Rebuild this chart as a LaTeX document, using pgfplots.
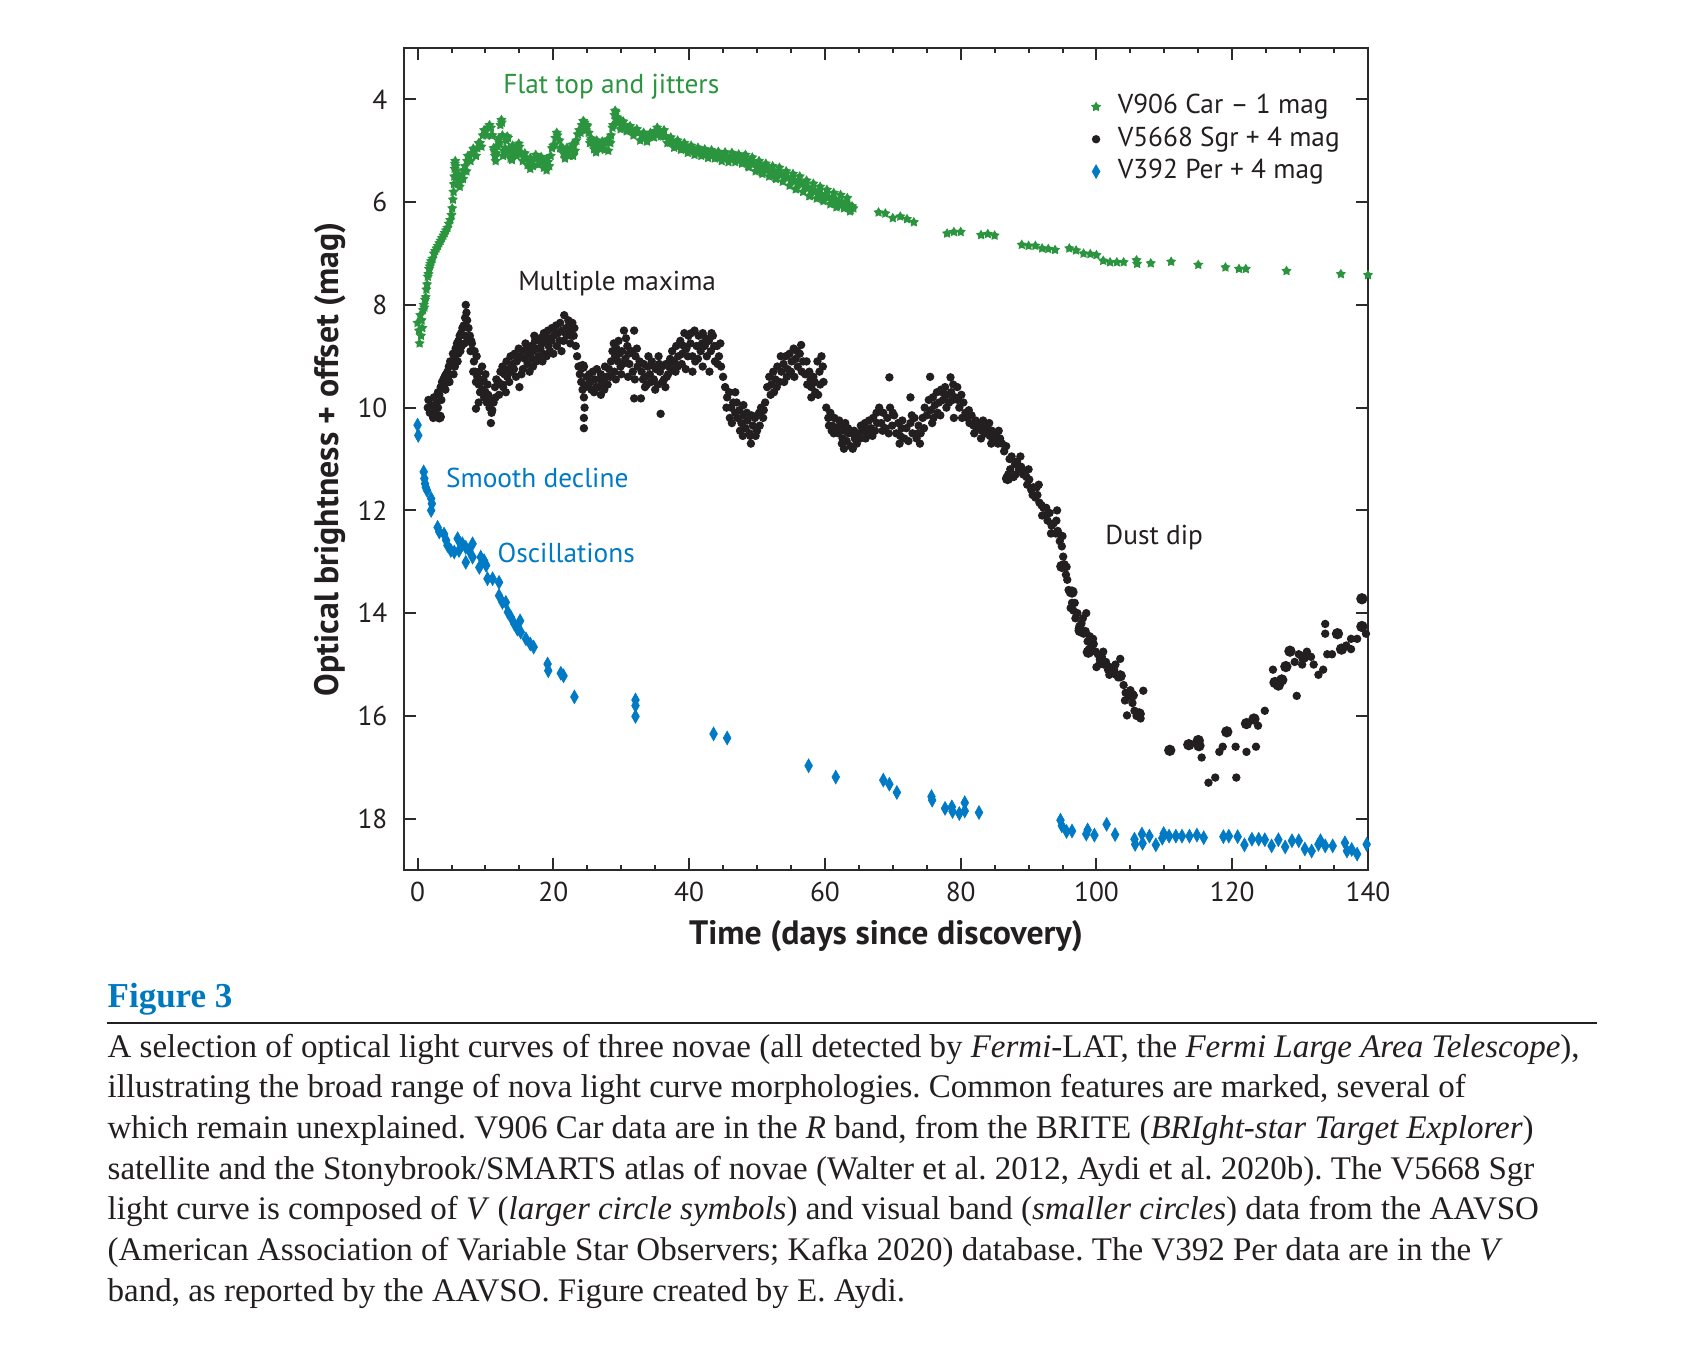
\documentclass[border=0pt]{standalone}
\usepackage{fontspec}
\setmainfont{PT Sans}
\newfontfamily\capfont{Liberation Serif}
\usepackage{pgfplots}
\pgfplotsset{compat=1.18}
\usetikzlibrary{plotmarks}
\definecolor{cgreen}{RGB}{42,148,62}
\definecolor{cblue}{RGB}{0,122,196}
\definecolor{cblack}{RGB}{35,31,32}
\definecolor{caxis}{RGB}{45,42,43}
\definecolor{capblue}{RGB}{0,120,190}
\pgfdeclareplotmark{fstar}{%
 \pgfpathmoveto{\pgfpointpolar{90}{\pgfplotmarksize}}%
 \pgfpathlineto{\pgfpointpolar{126}{0.55\pgfplotmarksize}}%
 \pgfpathlineto{\pgfpointpolar{162}{\pgfplotmarksize}}%
 \pgfpathlineto{\pgfpointpolar{198}{0.55\pgfplotmarksize}}%
 \pgfpathlineto{\pgfpointpolar{234}{\pgfplotmarksize}}%
 \pgfpathlineto{\pgfpointpolar{270}{0.55\pgfplotmarksize}}%
 \pgfpathlineto{\pgfpointpolar{306}{\pgfplotmarksize}}%
 \pgfpathlineto{\pgfpointpolar{342}{0.55\pgfplotmarksize}}%
 \pgfpathlineto{\pgfpointpolar{18}{\pgfplotmarksize}}%
 \pgfpathlineto{\pgfpointpolar{54}{0.55\pgfplotmarksize}}%
 \pgfpathclose\pgfusepathqfill}

\pgfplotstableread{
x y
0.0 8.35
0.2 8.5
0.3 8.75
0.4 8.2
0.5 8.6
0.6 8.3
0.7 8.45
0.8 8.1
0.9 8.0
1.0 8.05
1.1 7.9
1.2 7.85
1.3 7.7
1.4 7.6
1.5 7.45
1.6 7.4
1.7 7.3
1.8 7.25
1.9 7.2
2.0 7.15
2.2 7.1
2.4 7.0
2.6 6.95
2.8 6.9
3.0 6.85
3.2 6.8
3.4 6.75
3.6 6.7
3.8 6.65
4.0 6.6
4.2 6.55
4.4 6.5
4.6 6.42
4.8 6.35
5.0 6.25
5.1 6.12
5.2 5.95
5.3 5.8
5.35 5.65
5.4 5.5
5.45 5.35
5.5 5.25
5.55 5.2
5.6 5.3
5.7 5.4
5.8 5.5
6.0 5.55
6.2 5.6
6.4 5.55
6.6 5.45
6.8 5.38
7.0 5.3
7.3 5.2
7.6 5.12
8.0 5.05
8.4 5.0
8.8 4.95
9.2 4.85
9.6 4.7
10.0 4.62
10.4 4.55
10.8 4.55
11.0 4.7
11.2 4.95
11.4 5.1
11.6 5.05
11.8 4.9
12.0 4.75
12.2 4.5
12.35 4.4
12.5 4.7
12.7 5.0
12.9 4.95
13.1 4.8
13.3 4.75
13.5 4.95
13.8 5.05
14.1 4.95
14.4 5.0
14.8 4.95
15.0 4.92
15.3 5.05
15.6 5.12
16.0 5.15
16.4 5.2
16.8 5.22
17.2 5.15
17.6 5.15
18.0 5.18
18.4 5.22
18.8 5.25
19.2 5.22
19.6 5.1
20.0 4.9
20.3 4.75
20.6 4.7
20.9 4.8
21.2 4.95
21.5 5.05
21.8 5.05
22.2 5.0
22.6 4.98
23.0 4.9
23.4 4.8
23.8 4.6
24.2 4.5
24.6 4.45
24.9 4.5
25.2 4.65
25.5 4.8
25.8 4.85
26.2 4.88
26.6 4.85
27.0 4.88
27.4 4.9
27.8 4.85
28.2 4.82
28.5 4.7
28.8 4.5
29.0 4.3
29.2 4.25
29.4 4.35
29.7 4.45
30.0 4.48
30.5 4.5
31.0 4.55
31.5 4.6
32.0 4.62
32.5 4.65
33.0 4.7
33.5 4.72
34.0 4.72
34.5 4.68
35.0 4.62
35.5 4.6
36.0 4.65
36.5 4.72
37.0 4.78
37.5 4.82
38.0 4.85
38.5 4.88
39.0 4.9
39.5 4.92
40.0 4.95
40.5 4.98
41.0 5.0
41.5 5.0
42.0 5.02
42.5 5.05
43.0 5.05
43.5 5.05
44.0 5.08
44.5 5.1
45.0 5.08
45.5 5.1
46.0 5.12
46.5 5.1
47.0 5.12
47.5 5.15
48.0 5.12
48.5 5.18
49.0 5.2
49.5 5.25
50.0 5.28
50.5 5.3
51.0 5.32
51.5 5.35
52.0 5.38
52.5 5.4
53.0 5.42
53.5 5.45
54.0 5.48
54.5 5.52
55.0 5.55
55.5 5.58
56.0 5.6
56.5 5.63
57.0 5.68
57.5 5.72
58.0 5.75
58.5 5.78
59.0 5.8
59.5 5.85
60.0 5.88
60.5 5.9
61.0 5.93
61.5 5.95
62.0 5.98
62.5 6.0
63.0 6.02
63.5 6.05
64.0 6.08
67.9 6.20
68.9 6.22
70.0 6.31
71.1 6.28
72.1 6.33
73.1 6.39
78.0 6.61
79.0 6.58
80.0 6.58
83.0 6.64
84.0 6.62
85.0 6.65
89.0 6.83
90.0 6.85
91.0 6.85
92.0 6.90
92.9 6.91
93.9 6.93
96.0 6.90
97.0 6.94
98.1 7.00
99.1 7.01
100.0 7.03
101.0 7.14
102.0 7.17
103.0 7.17
104.0 7.17
105.9 7.13
106.0 7.20
108.0 7.19
111.0 7.16
115.0 7.22
119.0 7.27
121.0 7.30
122.0 7.30
128.0 7.34
136.0 7.40
140.0 7.42
}\greenA

\pgfplotstableread{
x y
6.2 5.7
6.7 5.55
7.2 5.4
7.8 5.2
8.6 5.1
9.4 4.92
10.2 4.7
10.9 4.7
11.5 5.2
12.1 4.85
12.6 5.1
13.0 5.05
13.7 5.15
14.6 5.1
15.5 5.2
16.2 5.28
17.0 5.3
17.8 5.27
18.6 5.33
19.4 5.3
20.2 4.88
21.0 4.95
21.7 5.15
22.4 5.1
23.2 5.0
24.0 4.65
24.8 4.6
25.4 4.85
26.0 4.97
26.8 4.96
27.6 4.98
28.4 4.85
29.3 4.4
29.9 4.58
30.8 4.62
31.8 4.7
32.8 4.8
33.8 4.82
34.8 4.74
35.8 4.72
36.8 4.85
37.8 4.94
38.8 4.98
39.8 5.04
40.8 5.08
41.8 5.1
42.8 5.14
43.8 5.15
44.8 5.2
45.8 5.22
46.8 5.22
47.8 5.25
48.8 5.32
49.8 5.4
50.8 5.45
51.8 5.5
52.8 5.55
53.8 5.6
54.8 5.68
55.8 5.74
56.8 5.8
57.8 5.88
58.8 5.93
59.8 5.98
60.8 6.04
61.8 6.08
62.8 6.12
63.8 6.15
6.5 5.48
7.4 5.1
8.2 4.96
9.0 4.85
9.8 4.6
10.6 4.5
11.3 5.0
11.9 4.8
12.4 4.45
13.2 4.72
14.0 4.9
14.9 4.86
15.8 5.05
16.6 5.14
17.4 5.08
18.2 5.12
19.0 5.17
19.8 4.95
20.5 4.65
21.4 4.95
22.0 4.94
22.8 4.88
23.6 4.68
24.4 4.42
25.0 4.52
25.6 4.76
26.4 4.8
27.2 4.82
28.0 4.78
28.7 4.55
29.1 4.22
29.6 4.38
30.3 4.43
31.3 4.52
32.3 4.58
33.3 4.65
34.3 4.65
35.3 4.55
36.3 4.6
37.3 4.74
38.3 4.8
39.3 4.85
40.3 4.9
41.3 4.94
42.3 4.97
43.3 4.99
44.3 5.02
45.3 5.03
46.3 5.04
47.3 5.07
48.3 5.08
49.3 5.13
50.3 5.2
51.3 5.25
52.3 5.3
53.3 5.33
54.3 5.4
55.3 5.45
56.3 5.5
57.3 5.58
58.3 5.64
59.3 5.7
60.3 5.76
61.3 5.82
62.3 5.86
63.3 5.92
35.2 4.68
36.2 4.72
37.2 4.84
38.2 4.9
39.2 4.95
40.2 5.0
41.2 5.05
42.2 5.08
43.2 5.1
44.2 5.13
45.2 5.14
46.2 5.16
47.2 5.18
48.2 5.2
49.2 5.26
50.2 5.33
51.2 5.37
52.2 5.43
53.2 5.46
54.2 5.52
55.2 5.58
56.2 5.63
57.2 5.72
58.2 5.78
59.2 5.84
60.2 5.91
61.2 5.96
62.2 6.01
63.2 6.06
64.2 6.12
55.7 5.75
57.7 5.88
59.7 5.95
61.7 6.1
63.7 6.18
50.7 5.42
52.7 5.52
48.7 5.3
13.9 5.18
16.6 5.35
19.0 5.38
22.9 5.1
26.3 5.03
28.1 5.0
}\greenB

\pgfplotstableread{
x y
1.5 10.0
1.6 9.85
1.8 10.1
2.0 9.95
2.2 10.15
2.4 9.8
2.6 10.05
2.8 9.9
3.0 9.7
3.2 9.75
3.4 9.6
3.6 9.5
3.8 9.45
4.0 9.55
4.2 9.35
4.4 9.3
4.5 9.45
4.6 9.2
4.8 9.1
5.0 9.15
5.2 8.95
5.4 9.0
5.5 9.2
5.6 8.85
5.8 8.75
6.0 8.7
6.0 8.95
6.2 8.6
6.4 8.55
6.5 8.8
6.6 8.45
6.8 8.4
7.0 8.25
7.0 8.6
7.1 8.0
7.3 8.3
7.5 8.45
7.5 8.7
7.7 8.6
7.9 8.7
8.0 8.75
8.1 8.9
8.2 9.3
8.3 9.1
8.5 9.3
8.6 9.5
8.6 10.02
8.7 9.0
8.8 9.4
9.0 9.55
9.0 9.9
9.2 9.7
9.4 9.5
9.5 9.2
9.6 9.65
9.8 9.8
10.0 9.7
10.0 9.35
10.2 9.9
10.4 9.75
10.6 10.0
10.8 9.85
10.8 10.3
11.0 10.05
11.2 9.9
11.4 9.6
11.6 9.45
11.9 9.5
12.2 9.3
12.5 9.2
12.5 9.55
12.8 9.35
13.0 9.7
13.1 9.1
13.4 9.25
13.5 9.5
13.7 9.0
14.0 9.15
14.3 8.95
14.5 9.4
14.6 9.1
14.9 8.85
15.0 9.6
15.2 9.0
15.5 8.9
15.5 9.25
15.8 9.05
16.1 8.85
16.4 8.95
16.5 9.3
16.7 8.8
17.0 8.9
17.0 9.2
17.3 8.7
17.5 9.1
17.6 8.85
18.0 8.65
18.3 8.75
18.5 8.95
18.6 8.55
18.9 8.7
19.0 9.0
19.2 8.5
19.5 8.65
19.5 8.9
19.8 8.45
20.1 8.6
20.4 8.4
20.5 8.8
20.7 8.55
21.0 8.35
21.3 8.5
21.5 8.7
21.6 8.2
21.9 8.45
22.2 8.3
22.5 8.5
22.5 8.75
22.8 8.35
23.0 8.6
23.3 8.8
23.5 9.0
23.7 9.2
23.9 9.35
24.1 9.5
24.3 9.65
24.5 9.8
24.5 10.2
24.5 10.4
24.6 10.0
24.7 9.6
24.9 9.4
25.1 9.55
25.3 9.35
25.5 9.5
25.8 9.3
26.0 9.7
26.1 9.45
26.4 9.25
26.7 9.6
27.0 9.35
27.0 9.75
27.3 9.5
27.6 9.2
27.9 9.4
28.2 9.25
28.5 9.1
28.7 8.9
28.9 8.75
29.0 9.3
29.1 9.0
29.3 8.85
29.5 9.1
29.7 8.95
29.9 9.2
30.0 9.35
30.1 8.9
30.4 8.5
30.6 9.05
30.9 8.8
31.0 9.4
31.2 9.15
31.5 8.9
31.9 8.5
31.9 9.82
32.0 9.45
32.1 9.0
32.4 9.2
32.7 9.1
32.9 9.82
33.0 9.3
33.3 9.15
33.5 9.6
33.6 9.4
33.9 9.2
34.0 9.0
34.2 9.35
34.5 9.1
34.8 9.45
35.0 9.65
35.1 9.25
35.4 9.55
35.5 9.0
35.7 9.3
35.8 10.12
36.0 9.2
36.3 9.45
36.5 9.6
36.6 9.15
36.9 9.35
37.2 9.05
37.5 8.9
37.8 9.1
38.0 9.3
38.1 8.8
38.4 9.0
38.7 8.7
39.0 8.95
39.3 8.55
39.5 9.25
39.6 8.85
39.9 8.6
40.2 8.75
40.5 9.0
40.5 9.3
40.8 8.5
41.1 8.8
41.4 8.6
41.7 8.9
42.0 8.55
42.0 9.2
42.3 8.8
42.6 9.0
42.9 8.7
43.0 9.3
43.2 8.9
43.5 8.6
43.8 9.1
44.1 8.8
44.4 9.0
44.7 9.2
45.0 9.4
45.3 9.6
45.6 9.8
45.9 9.7
46.0 10.2
46.2 10.0
46.5 9.9
46.8 10.1
46.8 9.7
47.1 10.2
47.4 10.05
47.5 10.45
47.7 10.3
48.0 10.15
48.0 9.95
48.3 10.4
48.6 10.25
48.9 10.5
49.0 10.55
49.1 10.7
49.4 10.35
49.7 10.2
50.0 10.45
50.3 10.1
50.6 10.0
50.9 10.2
51.2 9.9
51.5 9.6
51.8 9.4
52.1 9.55
52.4 9.3
52.5 9.7
52.7 9.45
53.0 9.2
53.3 9.5
53.6 9.3
53.9 9.15
54.0 9.5
54.2 9.0
54.5 9.25
54.8 8.95
55.1 9.1
55.4 8.85
55.5 9.4
55.7 9.05
56.0 9.2
56.3 8.95
56.5 8.78
56.8 9.1
57.1 9.35
57.4 9.55
57.7 9.3
58.0 9.6
58.0 9.8
58.3 9.4
58.6 9.7
58.9 9.1
59.0 9.75
59.2 9.3
59.5 9.0
59.8 9.5
60.2 10.0
60.5 10.2
60.8 10.1
61.0 10.45
61.1 10.35
61.4 10.2
61.7 10.4
62.0 10.5
62.3 10.35
62.5 10.7
62.6 10.6
62.9 10.45
63.0 10.3
63.2 10.65
63.5 10.5
63.8 10.75
64.0 10.5
64.1 10.8
64.4 10.6
64.7 10.7
65.0 10.5
65.3 10.35
65.6 10.45
65.9 10.3
66.0 10.6
66.2 10.5
66.5 10.25
66.8 10.4
67.1 10.2
67.4 10.45
67.7 10.3
68.0 10.0
68.3 10.3
68.6 10.1
68.9 10.4
69.2 10.2
69.5 9.41
69.6 10.0
69.9 10.35
70.2 10.15
70.5 10.5
70.8 10.3
71.0 10.7
71.1 10.55
71.4 10.25
71.7 10.6
72.0 10.4
72.3 10.65
72.6 9.8
72.6 10.3
72.9 10.5
73.2 10.2
73.5 10.6
73.8 10.35
74.0 10.7
74.1 10.5
74.4 10.2
74.7 10.0
75.0 10.15
75.3 9.85
75.5 9.4
75.6 10.05
75.9 9.8
76.0 10.2
76.2 9.95
76.5 9.7
76.8 9.9
77.0 10.15
77.1 9.65
77.4 9.85
77.7 9.6
78.0 9.75
78.3 9.9
78.5 9.41
78.6 9.7
78.9 9.55
79.0 10.2
79.2 9.8
79.5 9.6
79.8 10.0
80.1 9.75
80.4 9.9
80.7 10.1
81.0 10.2
81.3 10.3
81.6 10.15
81.9 10.35
82.2 10.25
82.5 10.4
82.8 10.3
83.0 10.6
83.1 10.45
83.4 10.35
83.7 10.5
84.0 10.4
84.3 10.55
84.5 10.7
84.6 10.45
84.9 10.6
85.2 10.5
85.5 10.7
85.8 10.6
86.1 10.7
86.4 10.85
86.7 10.75
87.0 11.3
87.2 11.0
87.5 10.95
87.8 11.35
88.0 11.1
88.3 11.05
88.6 11.2
88.9 11.15
89.2 11.3
89.5 11.25
89.8 11.5
90.0 11.2
90.1 11.4
90.4 11.6
90.7 11.55
91.0 11.75
91.3 11.7
91.5 11.5
91.6 11.85
91.9 11.9
92.2 11.95
92.5 12.1
92.8 12.2
93.1 12.05
93.4 12.3
93.7 12.25
94.0 12.45
94.2 12.0
94.3 12.4
94.6 12.6
94.9 12.7
95.0 12.5
95.1 12.9
95.3 13.05
95.5 13.25
95.7 13.35
95.9 13.55
96.1 13.6
96.4 13.8
96.6 13.95
96.9 14.1
97.2 14.0
97.5 14.25
97.8 14.2
98.1 14.4
98.4 14.35
98.5 14.0
98.7 14.55
99.0 14.45
99.3 14.65
99.6 14.6
99.9 14.75
100.0 15.05
100.2 14.8
100.5 14.9
100.8 14.85
101.1 15.0
101.4 14.95
101.7 15.1
102.0 15.05
102.3 15.15
102.6 15.1
102.9 15.2
103.2 15.25
103.5 14.89
104.0 15.4
104.3 15.55
104.5 15.99
104.7 15.6
105.0 15.5
105.3 15.75
105.6 15.9
105.9 16.0
106.2 15.95
106.5 16.05
106.9 15.51
115.5 16.81
116.5 17.3
117.5 17.2
118.1 16.7
118.6 16.6
120.5 16.6
120.6 17.2
122.1 16.7
123.5 16.6
123.8 16.19
124.8 15.9
126.0 15.1
129.5 15.61
129.2 14.95
129.8 14.8
130.3 15.0
131.0 14.75
131.6 14.85
132.0 15.0
132.7 15.2
133.4 15.1
133.7 14.21
133.7 14.4
134.0 14.8
134.7 14.8
136.8 14.63
137.5 14.7
137.5 14.5
138.4 14.5
139.7 14.4
2.3 10.2
3.0 10.0
3.5 9.85
4.1 9.65
4.7 9.5
5.3 9.35
5.9 9.1
6.3 8.9
6.9 8.75
7.2 8.15
7.8 8.9
8.4 8.9
9.1 9.3
9.7 9.45
10.3 9.55
10.9 10.1
11.5 9.8
12.0 9.75
12.6 9.6
13.2 9.4
13.8 9.3
14.2 9.25
14.8 9.05
15.3 9.35
15.9 8.75
16.2 9.15
16.9 9.05
17.2 8.6
17.8 9.0
18.1 8.85
18.4 9.1
18.8 8.6
19.3 8.8
19.7 8.7
20.0 8.95
20.3 8.55
20.9 8.7
21.2 8.9
21.8 8.55
22.0 8.6
22.3 8.4
22.7 8.6
23.1 8.45
25.6 9.65
26.3 9.6
26.9 9.45
27.5 9.65
28.0 9.55
28.4 9.4
29.2 9.45
29.6 8.7
30.2 9.15
30.7 8.65
31.1 8.95
31.7 9.3
32.3 8.85
33.2 9.45
33.8 9.55
34.4 9.5
34.9 9.2
35.6 9.15
36.1 9.5
36.7 9.4
37.0 9.2
37.6 9.25
38.3 9.2
38.9 9.15
39.2 8.8
39.8 9.0
40.3 8.55
40.9 9.1
41.3 9.05
41.9 8.75
42.5 8.65
43.3 8.55
43.7 8.8
44.2 9.15
44.6 8.75
45.5 10.0
46.3 10.3
47.0 9.9
47.9 10.55
48.5 10.1
49.2 10.15
49.8 10.55
50.4 10.35
51.0 10.05
52.0 9.75
52.9 9.6
53.5 9.0
54.4 9.4
55.0 9.3
55.9 8.9
56.6 9.3
57.3 9.1
57.9 9.45
58.5 9.5
59.3 9.55
59.7 9.2
60.6 10.35
61.3 10.5
62.1 10.25
62.8 10.8
63.4 10.4
64.3 10.45
65.2 10.6
66.1 10.4
67.0 10.55
67.6 10.1
68.5 10.45
69.4 10.5
70.0 10.1
71.3 10.4
72.8 10.15
73.7 10.5
74.6 10.4
75.8 10.3
76.6 10.1
77.3 9.7
77.9 10.0
78.8 9.85
79.6 9.85
80.2 10.2
81.2 10.05
82.0 10.5
83.3 10.25
84.2 10.3
85.0 10.65
85.6 10.45
87.3 11.2
88.1 11.3
88.8 10.95
89.7 11.35
90.6 11.7
91.2 11.55
92.0 12.1
92.6 11.95
93.3 12.45
94.1 12.2
94.8 12.5
95.6 13.1
96.2 13.9
96.8 13.8
97.4 14.3
98.0 14.1
98.9 14.7
99.5 14.5
100.4 15.0
101.0 14.75
101.9 15.2
102.8 15.0
104.2 15.7
105.5 15.6
}\blackS

\pgfplotstableread{
x y
3.2 10.18
4.2 9.4
24.3 9.2
86.9 11.38
94.9 13.09
96.4 13.59
97.6 14.34
98.8 14.76
103.5 15.22
105.2 15.6
106.3 15.96
110.8 16.67
113.6 16.56
115.0 16.48
115.1 16.58
119.2 16.31
122.1 16.15
123.2 16.06
126.3 15.35
126.8 15.4
127.3 15.3
127.9 15.04
128.5 14.74
130.5 14.86
135.5 14.4
136.1 14.7
139.1 13.72
139.1 14.26
}\blackL

\pgfplotstableread{
x y
0.0 10.34
0.1 10.54
0.9 11.25
1.0 11.38
1.1 11.48
1.2 11.55
1.4 11.61
2.0 11.77
2.1 11.87
2.0 12.0
2.95 12.33
3.2 12.42
3.9 12.46
4.2 12.58
4.4 12.68
4.9 12.78
5.4 12.81
5.9 12.55
6.1 12.78
6.6 12.65
7.1 12.72
7.1 13.01
7.6 12.78
8.1 12.65
8.1 12.91
9.1 13.11
9.3 12.91
9.8 12.98
10.1 13.07
10.3 13.33
11.05 13.33
12.0 13.4
12.0 13.66
12.5 13.79
13.0 13.79
13.3 13.98
13.75 14.08
14.25 14.21
14.7 14.31
15.1 14.15
15.2 14.37
15.96 14.5
16.6 14.6
17.1 14.66
19.15 14.99
19.25 15.12
21.1 15.17
21.5 15.22
23.1 15.63
32.1 15.69
32.1 15.8
32.1 16.01
43.6 16.35
45.6 16.43
57.6 16.97
61.6 17.19
68.6 17.25
69.5 17.33
70.6 17.49
75.7 17.57
75.8 17.64
77.7 17.80
78.7 17.77
78.8 17.86
79.8 17.90
80.6 17.69
80.6 17.85
82.7 17.88
94.7 18.03
94.9 18.14
95.6 18.25
96.4 18.24
98.5 18.30
98.7 18.22
99.7 18.32
101.5 18.11
102.75 18.31
105.6 18.40
105.7 18.50
106.7 18.30
106.8 18.48
107.8 18.34
108.75 18.51
109.7 18.38
109.9 18.29
110.7 18.34
111.7 18.34
112.6 18.34
113.7 18.34
114.8 18.32
115.8 18.37
118.7 18.35
119.5 18.34
120.8 18.35
121.8 18.51
122.9 18.40
123.9 18.40
124.8 18.41
125.8 18.53
126.8 18.41
127.8 18.55
128.8 18.43
129.8 18.43
130.7 18.59
131.7 18.63
132.7 18.50
133.0 18.43
133.7 18.53
134.8 18.53
136.6 18.47
136.9 18.63
137.6 18.60
138.4 18.69
139.8 18.50
}\blue

\begin{document}
\frenchspacing
\begin{tikzpicture}
\path[use as bounding box] (0,0) rectangle (511.8pt,-410.4pt);
\begin{axis}[
 at={(121.2pt,-261pt)}, anchor=south west,
 scale only axis, width=289.2pt, height=246.6pt,
 xmin=-2, xmax=140, ymin=3, ymax=19, y dir=reverse,
 xtick={0,20,...,140}, minor x tick num=3,
 ytick={4,6,...,18},
 tick align=inside,
 major tick length=3.6pt, minor tick length=1.6pt,
 axis line style={caxis, line width=0.75pt},
 every tick/.style={caxis, line width=0.6pt},
 tick label style={font=\fontsize{8.2}{9}\selectfont, text=cblack},
 /pgf/number format/assume math mode=true,
 xticklabel style={anchor=center, yshift=-6.6pt, inner sep=0pt},
 yticklabel style={anchor=east, xshift=-4.8pt, inner sep=0pt},
 xlabel={Time (days since discovery)},
 ylabel={Optical brightness + offset (mag)},
 label style={font=\bfseries\fontsize{10.15}{12}\selectfont, text=cblack},
 xlabel style={at={(axis description cs:0.5,-0.080)}, anchor=center},
 ylabel style={at={(axis description cs:-0.0768,0.5)}, anchor=center},
 legend style={at={(axis cs:99.1,3.88)}, anchor=north west, draw=none, fill=none,
   font=\fontsize{8.2}{9}\selectfont, row sep=1.9pt, inner sep=0pt,
   nodes={inner sep=0pt, text height=6pt, text depth=1.8pt, text=cblack},
   /tikz/every odd column/.append style={column sep=5pt}},
 legend cell align=left,
 legend image code/.code={\draw[#1] plot coordinates {(0pt,0pt)};},
]
\addplot[only marks, mark=fstar, mark size=1.6pt, color=cgreen] table {\greenA};
\addlegendentry{V906 Car – 1 mag}
\addplot[only marks, mark=*, mark size=1.05pt, color=cblack] table {\blackS};
\addlegendentry{V5668 Sgr + 4 mag}
\addplot[only marks, mark=diamond*, mark size=2.05pt, mark options={xscale=0.75, line width=0.2pt}, color=cblue] table {\blue};
\addlegendentry{V392 Per + 4 mag}
\addplot[only marks, mark=fstar, mark size=1.6pt, color=cgreen, forget plot] table {\greenB};
\addplot[only marks, mark=*, mark size=1.5pt, color=cblack, forget plot] table {\blackL};
\node[text=cgreen, font=\fontsize{8.2}{9}\selectfont] at (axis cs:28.53,3.755) {Flat top and jitters};
\node[text=cblack, font=\fontsize{8.2}{9}\selectfont] at (axis cs:29.4,7.575) {Multiple maxima};
\node[text=cblue, font=\fontsize{8.2}{9}\selectfont] at (axis cs:17.63,11.36) {Smooth decline};
\node[text=cblue, font=\fontsize{8.2}{9}\selectfont] at (axis cs:21.9,12.82) {Oscillations};
\node[text=cblack, font=\fontsize{8.2}{9}\selectfont] at (axis cs:108.5,12.53) {Dust dip};
\end{axis}
\begin{scope}[x=0.3pt,y=-0.3pt]
\node[anchor=base west, inner sep=0pt, text=capblue, font=\capfont\bfseries\fontsize{10.5}{12}\selectfont] at (107,1007) {Figure 3};
\draw[line width=0.75pt, cblack] (107,1023) -- (1597,1023);
\begin{scope}[every node/.style={anchor=base west, inner sep=0pt, text=cblack, font=\capfont\fontsize{9.9}{12}\selectfont}]
\node at (107,1057) {A selection of optical light curves of three novae (all detected by \textit{Fermi}-LAT, the \textit{Fermi Large Area Telescope}),};
\node at (107,1097.7) {illustrating the broad range of nova light curve morphologies. Common features are marked, several of};
\node at (107,1138.4) {which remain unexplained. V906 Car data are in the \textit{R} band, from the BRITE (\textit{BRIght-star Target Explorer})};
\node at (107,1179.1) {satellite and the Stonybrook/SMARTS atlas of novae (Walter et al. 2012, Aydi et al. 2020b). The V5668 Sgr};
\node at (107,1219.8) {light curve is composed of \textit{V} (\textit{larger circle symbols}) and visual band (\textit{smaller circles}) data from the AAVSO};
\node at (107,1260.5) {(American Association of Variable Star Observers; Kafka 2020) database. The V392 Per data are in the \textit{V}};
\node at (107,1301.2) {band, as reported by the AAVSO. Figure created by E. Aydi.};
\end{scope}
\end{scope}
\end{tikzpicture}
\end{document}
